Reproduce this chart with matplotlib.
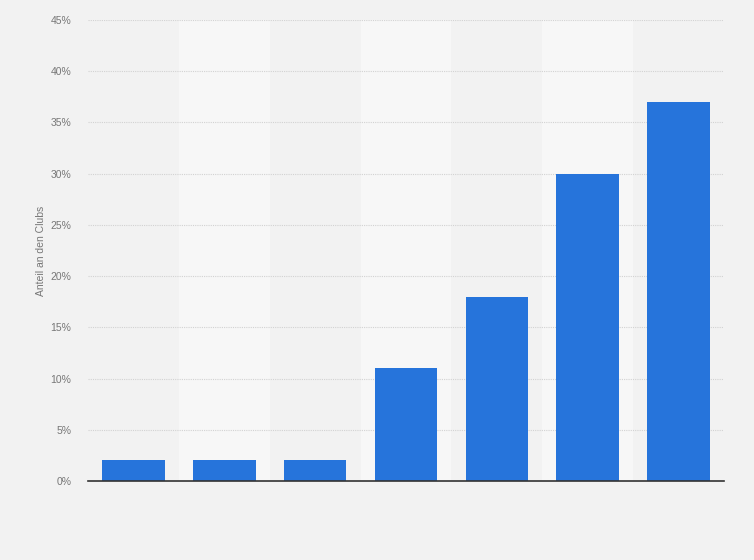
import numpy as np
import matplotlib.pyplot as plt
from matplotlib.ticker import FuncFormatter

plt.rcParams['font.family'] = ['Liberation Sans', 'DejaVu Sans']

# Anteil an den Clubs (%), Kategorien ohne Beschriftung im Original
values = [2, 2, 2, 11, 18, 30, 37]
y_ticks = [0, 5, 10, 15, 20, 25, 30, 35, 40, 45]

bg = '#f2f2f2'
band = '#f7f7f7'
bar_color = '#2674db'

fig = plt.figure(figsize=(7.54, 5.6), dpi=100, facecolor=bg)
ax = fig.add_axes([0.1167, 0.1411, 0.8435, 0.8232])
ax.set_facecolor(bg)

x = np.arange(len(values))

# abwechselnde helle Spalten
for i in x:
    if i % 2 == 1:
        ax.axvspan(i - 0.5, i + 0.5, color=band, zorder=0, lw=0)

ax.bar(x, values, width=0.69, color=bar_color, zorder=3)

ax.set_xlim(-0.5, len(values) - 0.5)
ax.set_ylim(0, 45)
ax.set_yticks(y_ticks)
ax.yaxis.set_major_formatter(FuncFormatter(lambda v, p: f'{v:.0f}%'))
ax.set_xticks([])

ax.grid(axis='y', color='#d2d2d2', linestyle=(0, (1, 1)), linewidth=0.8, zorder=1)
ax.tick_params(axis='y', length=0, labelsize=7.5, labelcolor='#777777', pad=12)

for s in ['top', 'right', 'left']:
    ax.spines[s].set_visible(False)
ax.spines['bottom'].set_color('#333333')
ax.spines['bottom'].set_linewidth(1.2)
ax.spines['bottom'].set_zorder(4)

ax.set_ylabel('Anteil an den Clubs', fontsize=7.5, color='#777777', labelpad=3)

plt.savefig('out.png', dpi=100, facecolor=bg)
